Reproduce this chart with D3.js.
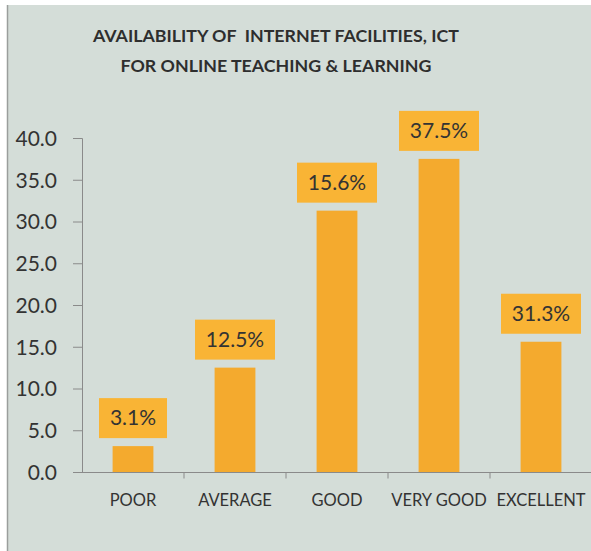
<!DOCTYPE html>
<html><head><meta charset="utf-8">
<script src="https://cdn.jsdelivr.net/npm/d3@7"></script>
<style>html,body{margin:0;padding:0;background:#fff;}svg{display:block;}</style>
</head><body>
<script>
const categories = ["POOR","AVERAGE","GOOD","VERY GOOD","EXCELLENT"];
const values = [3.1, 12.5, 31.3, 37.5, 15.6];
const labels = ["3.1%","12.5%","15.6%","37.5%","31.3%"];
const yTicks = [0,5,10,15,20,25,30,35,40];
const titleLines = ["AVAILABILITY OF  INTERNET FACILITIES, ICT","FOR ONLINE TEACHING & LEARNING"];

const W = 591, H = 551;
const svg = d3.select("body").append("svg").attr("width", W).attr("height", H);
svg.append("rect").attr("x",0).attr("y",0).attr("width",W).attr("height",H).attr("fill","#fff");
svg.append("rect").attr("x",7).attr("y",5).attr("width",W-7).attr("height",H-5).attr("fill","#d4ddd8");
svg.append("line").attr("x1",7.5).attr("x2",7.5).attr("y1",5).attr("y2",H).attr("stroke","#9a9e9c").attr("stroke-width",1.5);

const font = "Lato, 'Open Sans', sans-serif";
const txt = "#333";

svg.append("g").selectAll("text").data(titleLines).join("text")
  .attr("x", 276).attr("y",(d,i)=>42+i*30)
  .attr("text-anchor","middle").attr("font-family",font).attr("font-weight","bold")
  .attr("font-size",17.8).attr("fill","#2e2e2e").attr("xml:space","preserve").text(d=>d);

const x = d3.scaleBand().domain(categories).range([82, 592]).paddingInner(0.6).paddingOuter(0.3);
const y = d3.scaleLinear().domain([0,40]).range([472,138]);

// y axis
const ya = svg.append("g").attr("transform","translate(82,0)")
  .call(d3.axisLeft(y).tickValues(yTicks).tickFormat(d3.format(".1f")).tickSize(9).tickPadding(16));
ya.select(".domain").attr("stroke","#8a8a8a").attr("d","M-9,138.5H0.5V472.5");
ya.selectAll(".tick line").attr("stroke","#8a8a8a");
ya.selectAll("text").attr("font-family",font).attr("font-size",21).attr("fill",txt).attr("dy","0.35em");

// x axis
const xa = svg.append("g").attr("transform","translate(0,472.5)")
  .call(d3.axisBottom(x).tickSize(0).tickPadding(0));
xa.select(".domain").attr("stroke","#8a8a8a").attr("d","M82,0H592");
xa.selectAll("text").attr("font-family",font).attr("font-size",16.5).attr("fill",txt).attr("dy",0).attr("y",33);
// band boundary ticks
const step = x.step();
xa.append("g").selectAll("line").data(categories.slice(1)).join("line")
  .attr("x1",d=>x(d)+x.bandwidth()/2 - step/2).attr("x2",d=>x(d)+x.bandwidth()/2 - step/2)
  .attr("y1",0).attr("y2",6).attr("stroke","#8a8a8a");

// bars
svg.append("g").selectAll("rect").data(values).join("rect")
  .attr("x",(d,i)=>x(categories[i])).attr("width",x.bandwidth())
  .attr("y",d=>y(d)).attr("height",d=>y(0)-y(d)).attr("fill","#f4aa2e");

// label boxes
const lg = svg.append("g").selectAll("g").data(values).join("g")
  .attr("transform",(d,i)=>`translate(${x(categories[i])+x.bandwidth()/2},${y(d)-8})`);
lg.append("rect").attr("x",(d,i)=>labels[i].length>4?-40:-34).attr("y",-40)
  .attr("width",(d,i)=>labels[i].length>4?80:68).attr("height",40).attr("fill","#f9b435");
lg.append("text").attr("x",0).attr("y",-13).attr("text-anchor","middle")
  .attr("font-family",font).attr("font-size",21).attr("fill",txt).text((d,i)=>labels[i]);
</script>
</body></html>
